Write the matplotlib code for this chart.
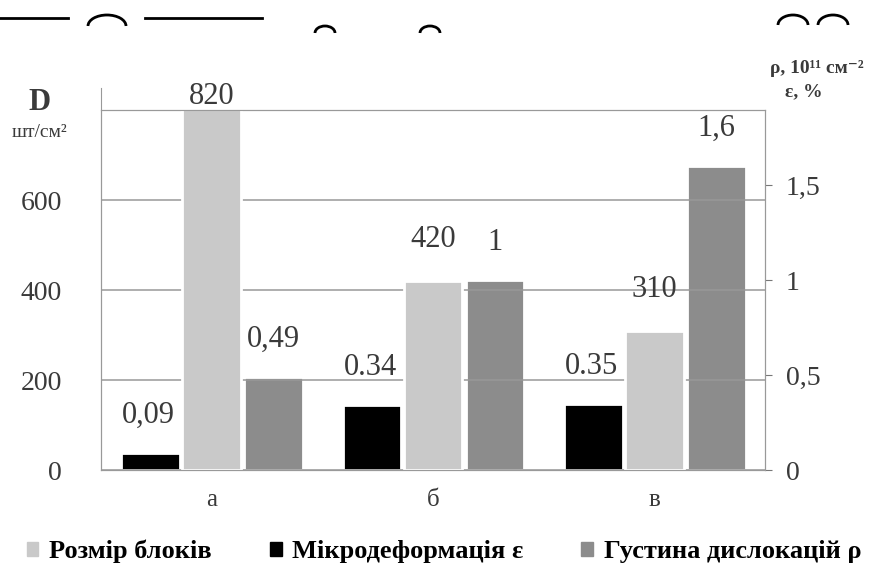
import matplotlib as mpl
mpl.use('Agg')
import matplotlib.pyplot as plt
import numpy as np
from matplotlib.patches import Patch, Arc
from matplotlib.lines import Line2D

plt.rcParams['font.family'] = ['Liberation Serif', 'DejaVu Serif']

# data
groups = ['а', 'б', 'в']
block_size = [820, 420, 310]            # left axis, D
microstrain = [0.09, 0.34, 0.35]        # right axis, eps %
disloc_density = [0.49, 1.0, 1.6]       # right axis, rho 10^11 cm^-2
size_labels = ['820', '420', '310']
strain_labels = ['0,09', '0.34', '0.35']
density_labels = ['0,49', '1', '1,6']
series_names = ['Розмір блоків', 'Мікродеформація ε', 'Густина дислокацій ρ']

light = '#c9c9c9'
dark = '#8c8c8c'
txt = '#3a3a3a'

fig = plt.figure(figsize=(8.88, 5.81), dpi=100)
ax = fig.add_axes([0.1137, 0.191, 0.7478, 0.6196])
ax2 = ax.twinx()
ax.set_zorder(ax2.get_zorder() + 1)
ax.patch.set_visible(False)

x = np.arange(len(groups))
w = 0.265
ax.set_xlim(-0.5, 2.5)
ax.set_ylim(0, 800)
ax2.set_ylim(0, 1.895)

ax.set_yticks([0, 200, 400, 600, 800])
ax.yaxis.grid(True, color='#999999', lw=1.1)
ax.set_axisbelow(True)

ax2.bar(x - 0.275, microstrain, w, color='black', edgecolor='white', lw=2)
ax.bar(x, block_size, w, color=light, edgecolor='white', lw=2, zorder=2)
ax2.bar(x + 0.28, disloc_density, w, color=dark, edgecolor='white', lw=2)

# value labels
for xi, v, s in zip(x, block_size, size_labels):
    if v > 800:
        ax.annotate(s, (xi, 800), xytext=(0, 6), textcoords='offset pixels',
                    ha='center', va='baseline', fontsize=22, color=txt, annotation_clip=False)
    else:
        ax.annotate(s, (xi, v), xytext=(0, 34), textcoords='offset pixels',
                    ha='center', va='baseline', fontsize=22, color=txt)
for xi, v, s in zip(x - 0.275, microstrain, strain_labels):
    ax2.annotate(s, (xi, v), xytext=(-2, 30), textcoords='offset pixels',
                 ha='center', va='baseline', fontsize=22, color=txt)
for xi, v, s in zip(x + 0.28, disloc_density, density_labels):
    ax2.annotate(s, (xi, v), xytext=(0, 30), textcoords='offset pixels',
                 ha='center', va='baseline', fontsize=22, color=txt)

# axes styling
ax.set_xticks(x)
ax.set_xticklabels(groups, fontsize=18, color=txt)
ax.tick_params(axis='x', length=0, pad=14)
ax.set_yticks([0, 200, 400, 600])
ax.tick_params(axis='y', length=0, labelsize=20, labelcolor=txt, pad=28)
for s in ['left', 'right', 'top', 'bottom']:
    ax.spines[s].set_color('#999999')
    ax2.spines[s].set_color('#999999')
ax.spines['left'].set_bounds(0, 850)

ax2.set_yticks([0, 0.5, 1, 1.5])
ax2.set_yticklabels(['0', '0,5', '1', '1,5'])
ax2.tick_params(axis='y', direction='out', length=5, color='#777777',
                labelsize=20, labelcolor=txt, pad=10)

fig.text(0.045, 0.81, 'D', fontsize=22, fontweight='bold', color=txt, ha='center')
fig.text(0.045, 0.765, 'шт/см²', fontsize=14, color=txt, ha='center')
fig.text(0.92, 0.875, 'ρ, 10¹¹ см⁻²', fontsize=14, fontweight='bold', color=txt, ha='center')
fig.text(0.905, 0.835, 'ε, %', fontsize=14, fontweight='bold', color=txt, ha='center')

handles = [Patch(color=light), Patch(color='black'), Patch(color=dark)]
fig.legend(handles, series_names, loc='lower center', bbox_to_anchor=(0.5, -0.01),
           ncol=3, frameon=False, prop={'weight': 'bold', 'size': 19},
           handlelength=0.45, handleheight=0.45, handletextpad=0.4, columnspacing=2.2)

# scan leftovers along the top edge
def fx(px):
    return px / 888

def fy(py):
    return 1 - py / 581

for (x0, x1, yy) in [(0, 68, 18), (145, 262, 18)]:
    fig.add_artist(Line2D([fx(x0), fx(x1)], [fy(yy), fy(yy)], color='black', lw=2))
for (cx, cy, aw, ah) in [(107, 26, 38, 22), (793, 25, 30, 20), (833, 25, 30, 20),
                         (325, 33, 20, 14), (430, 33, 20, 14)]:
    fig.add_artist(Arc((fx(cx), fy(cy)), aw / 888, ah / 581, theta1=0, theta2=180,
                       color='black', lw=2, transform=fig.transFigure))

fig.savefig('out.png', dpi=100)
